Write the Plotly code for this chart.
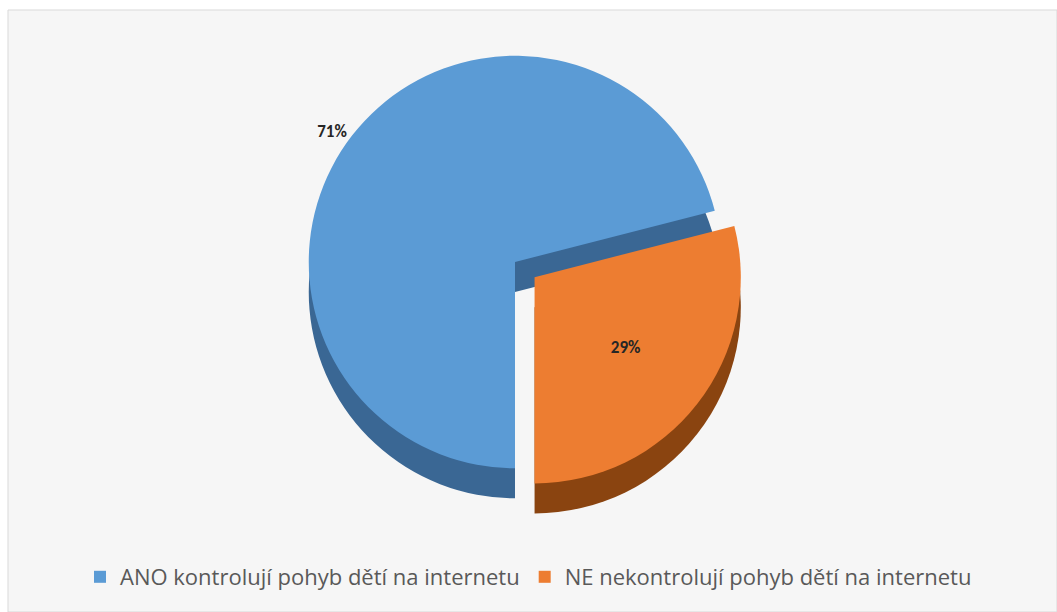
import plotly.graph_objects as go

labels = ["ANO kontrolují pohyb dětí na internetu", "NE nekontrolují pohyb dětí na internetu"]
values = [71, 29]
colors = ["#5B9BD5", "#ED7D31"]
side_colors = ["#3A6794", "#8A4410"]
text_labels = ["<b>71%</b>", "<b>29%</b>"]

W, H = 1057, 612
font_fam = "Carlito, 'Open Sans', sans-serif"

# pie placement (pixels)
cx, cy, size = 515, 262, 462
depth = 30

def dom(cx, cy):
    return dict(x=[(cx - size / 2) / W, (cx + size / 2) / W],
                y=[max(0, 1 - (cy + size / 2) / H), min(1, 1 - (cy - size / 2) / H)])

fig = go.Figure()

# extrusion (side walls) of the 3D pie
fig.add_trace(go.Pie(
    labels=labels, values=values, sort=False, direction="clockwise", rotation=180,
    pull=[0, 0.12], marker=dict(colors=side_colors, line=dict(width=0)),
    textinfo="none", hoverinfo="skip", showlegend=False,
    domain=dom(cx, cy + depth),
))

# top face
fig.add_trace(go.Pie(
    labels=labels, values=values, sort=False, direction="clockwise", rotation=180,
    pull=[0, 0.12], marker=dict(colors=colors, line=dict(width=0)),
    text=text_labels, textinfo="text", textposition=["outside", "inside"],
    insidetextorientation="horizontal",
    textfont=dict(family=font_fam, size=17, color="#262626"),
    domain=dom(cx, cy),
))

fig.update_layout(
    width=W, height=H,
    margin=dict(l=0, r=0, t=0, b=0, autoexpand=False),
    paper_bgcolor="white",
    font=dict(family=font_fam),
    shapes=[dict(type="rect", xref="paper", yref="paper",
                 x0=8 / W, x1=1.0, y0=0.0, y1=1 - 10 / H,
                 fillcolor="#F6F6F6", line=dict(color="#D9D9D9", width=1),
                 layer="below")],
    legend=dict(orientation="h", x=0.5, xanchor="center", y=1 - 577 / H, yanchor="middle",
                font=dict(family="'Open Sans', sans-serif", size=22, color="#595959"),
                bgcolor="rgba(0,0,0,0)", itemwidth=30, traceorder="normal"),
)

fig.write_html("out.html")
